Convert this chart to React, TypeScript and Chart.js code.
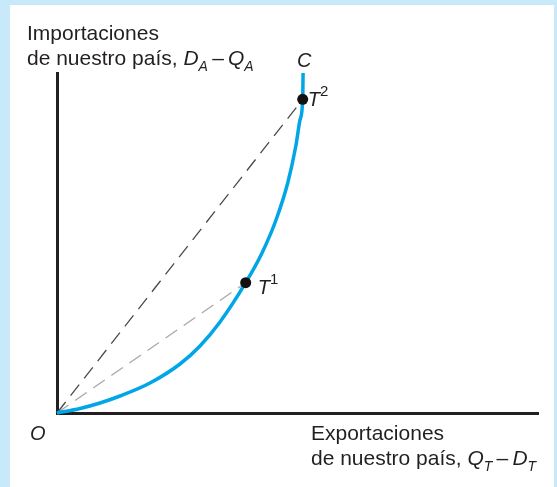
import React, { useEffect, useRef } from "react";
import { Chart, registerables } from "chart.js";
Chart.register(...registerables);

// Offer curve C (home imports vs exports), in axis units 0..100
const curveX = [0, 4.78, 8.94, 13.1, 19.33, 25.57, 29.73, 33.89, 39.23, 42.62, 45.53, 48.02, 49.69, 50.52, 51.08, 51.13, 51.16];
const curveY = [0, 1.32, 2.94, 5.0, 8.82, 14.41, 19.71, 26.76, 38.32, 47.06, 56.76, 67.94, 78.82, 86.18, 92.26, 96.47, 100];
// Points T1 and T2 on the curve
const pointNames = ["T", "T"];
const pointSups = ["1", "2"];
const pointX = [39.23, 51.08];
const pointY = [38.32, 92.26];

const yTitle1 = "Importaciones";
const yTitle2 = "de nuestro país, ";
const xTitle1 = "Exportaciones";
const xTitle2 = "de nuestro país, ";
const curveName = "C";
const originName = "O";

const FONT = '"Liberation Sans", Arial, Helvetica, sans-serif';
const TXT = "#231f20";

type Seg = { t: string; it?: boolean; sub?: boolean; sup?: boolean; size?: number };

function drawRich(ctx: CanvasRenderingContext2D, x: number, y: number, segs: Seg[], base: number) {
  let cx = x;
  for (const s of segs) {
    const size = s.size ?? base;
    ctx.font = `${s.it ? "italic " : ""}${size}px ${FONT}`;
    const dy = s.sub ? 6 : s.sup ? -10 : 0;
    ctx.fillText(s.t, cx, y + dy);
    cx += ctx.measureText(s.t).width + (s.sup ? 0 : 0);
  }
}

export default function App() {
  const ref = useRef<HTMLCanvasElement | null>(null);

  useEffect(() => {
    if (!ref.current) return;
    const bgPlugin = {
      id: "bg",
      beforeDraw(chart: any) {
        const ctx = chart.ctx;
        ctx.save();
        ctx.fillStyle = "#ffffff";
        ctx.fillRect(10, 5, 544, 482);
        ctx.restore();
      },
    };
    const textPlugin = {
      id: "texts",
      afterDraw(chart: any) {
        const ctx: CanvasRenderingContext2D = chart.ctx;
        const xs = chart.scales.x;
        const ys = chart.scales.y;
        ctx.save();
        ctx.fillStyle = TXT;
        ctx.textBaseline = "alphabetic";
        ctx.textAlign = "left";
        // y-axis title
        drawRich(ctx, 27, 40, [{ t: yTitle1 }], 21);
        drawRich(
          ctx,
          27,
          65,
          [
            { t: yTitle2 },
            { t: "D", it: true },
            { t: "A", it: true, sub: true, size: 14 },
            { t: "\u2009\u2013\u2009" },
            { t: "Q", it: true },
            { t: "A", it: true, sub: true, size: 14 },
          ],
          21
        );
        // x-axis title
        drawRich(ctx, 311, 440, [{ t: xTitle1 }], 21);
        drawRich(
          ctx,
          311,
          465,
          [
            { t: xTitle2 },
            { t: "Q", it: true },
            { t: "T", it: true, sub: true, size: 14 },
            { t: "\u2009\u2013\u2009" },
            { t: "D", it: true },
            { t: "T", it: true, sub: true, size: 14 },
          ],
          21
        );
        // origin
        drawRich(ctx, 30, 440, [{ t: originName, it: true }], 20);
        // curve name
        const topX = xs.getPixelForValue(curveX[curveX.length - 1]);
        drawRich(ctx, topX - 6, 67, [{ t: curveName, it: true }], 20);
        // point labels
        const dxs = [12, 5];
        const dys = [11, 7];
        for (let i = 0; i < pointX.length; i++) {
          const px = xs.getPixelForValue(pointX[i]);
          const py = ys.getPixelForValue(pointY[i]);
          drawRich(
            ctx,
            px + dxs[i],
            py + dys[i],
            [
              { t: pointNames[i], it: true },
              { t: pointSups[i], sup: true, size: 15 },
            ],
            20
          );
        }
        ctx.restore();
      },
    };

    const curve = curveX.map((x, i) => ({ x, y: curveY[i] }));
    const pts = pointX.map((x, i) => ({ x, y: pointY[i] }));

    const axisCommon = {
      type: "linear" as const,
      display: true,
      min: 0,
      max: 100,
      grid: { display: false, drawTicks: false },
      ticks: { display: false },
      border: { display: true, color: TXT, width: 3 },
    };

    const chart = new Chart(ref.current, {
      type: "scatter",
      data: {
        datasets: [
          {
            label: "points",
            data: pts,
            showLine: false,
            pointRadius: 5.5,
            pointBackgroundColor: "#111111",
            pointBorderWidth: 0,
            order: 0,
            clip: false,
          } as any,
          {
            label: "C",
            data: curve,
            showLine: true,
            borderColor: "#00a6e6",
            borderWidth: 3.5,
            pointRadius: 0,
            cubicInterpolationMode: "monotone",
            order: 1,
            clip: false,
          } as any,
          {
            label: "OT2",
            data: [{ x: 0, y: 0 }, pts[1]],
            showLine: true,
            borderColor: "#4a4a4a",
            borderWidth: 1.3,
            borderDash: [14, 8],
            pointRadius: 0,
            order: 2,
            clip: false,
          } as any,
          {
            label: "OT1",
            data: [{ x: 0, y: 0 }, pts[0]],
            showLine: true,
            borderColor: "#a8a8a8",
            borderWidth: 1.3,
            borderDash: [14, 8],
            pointRadius: 0,
            order: 3,
            clip: false,
          } as any,
        ],
      },
      options: {
        responsive: false,
        animation: false,
        devicePixelRatio: 1,
        layout: { padding: { left: 57, right: 19, top: 73, bottom: 74 } },
        plugins: { legend: { display: false }, tooltip: { enabled: false } },
        scales: { x: axisCommon, y: axisCommon },
        events: [],
      },
      plugins: [bgPlugin, textPlugin],
    });
    return () => chart.destroy();
  }, []);

  return (
    <div
      style={{
        position: "absolute",
        left: 0,
        top: 0,
        width: 557,
        height: 487,
        background: "#c8e9f9",
      }}
    >
      <canvas ref={ref} width={557} height={487} style={{ display: "block" }} />
    </div>
  );
}
